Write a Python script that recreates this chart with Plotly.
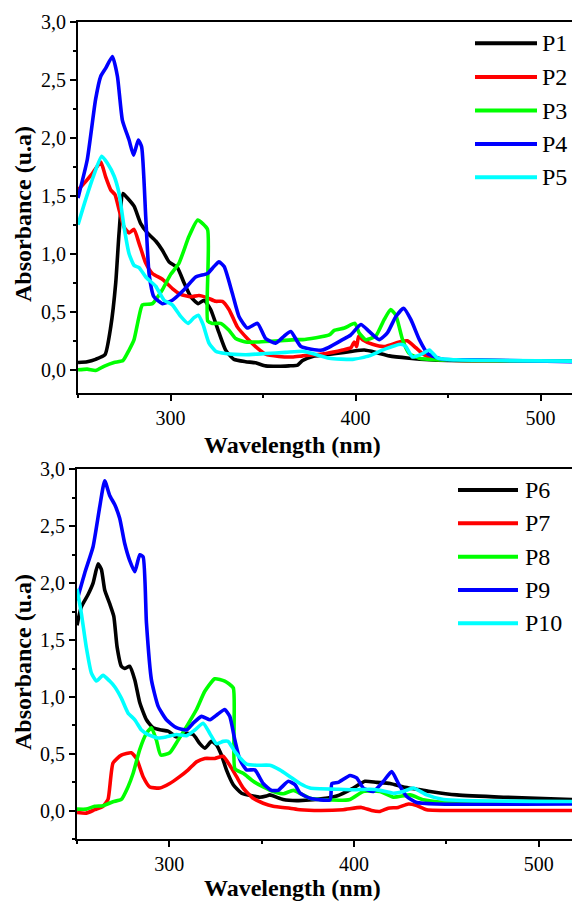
import plotly.graph_objects as go

# ---------------- data ----------------
names_top = ["P1", "P2", "P3", "P4", "P5"]
names_bot = ["P6", "P7", "P8", "P9", "P10"]

wl_p1 = [250, 255, 259.5, 264.6, 267.7, 270.4, 272.2, 274.3, 276.7, 280.3, 283.9, 287.5, 292, 295.6, 299.2, 303.7,
         307.3, 310.9, 315, 318.1, 321.7, 326.2, 329.8, 334.3, 340.6, 346, 351.4, 358.6, 364, 368.7, 371.4, 376.8,
         389.4, 398.4, 404.7, 411, 418.2, 429, 439.9, 450, 470, 517]
ab_p1 = [0.063, 0.07, 0.09, 0.13, 0.37, 0.75, 1.18, 1.52, 1.48, 1.41, 1.26, 1.18, 1.11, 1.03, 0.93, 0.88,
         0.75, 0.63, 0.57, 0.60, 0.52, 0.32, 0.17, 0.09, 0.07, 0.06, 0.034, 0.03, 0.034, 0.04, 0.08, 0.115,
         0.14, 0.16, 0.17, 0.15, 0.12, 0.10, 0.086, 0.08, 0.078, 0.075]

wl_p2 = [250, 254, 257.7, 262.3, 265, 267.7, 270, 272.2, 274.9, 277.6, 280.3, 283, 286.6, 290.2, 295.6, 301,
         305.5, 310.9, 315.4, 320, 324.4, 328, 331.6, 336.1, 341.5, 346, 351.4, 358.6, 365.8, 371.4, 384, 393,
         397.5, 399.3, 400.6, 401.7, 403.8, 409.2, 415.5, 423.6, 428, 432.6, 437, 443.4, 460, 517]
ab_p2 = [1.55, 1.62, 1.69, 1.79, 1.66, 1.55, 1.51, 1.38, 1.23, 1.18, 1.21, 1.09, 0.92, 0.83, 0.78, 0.70,
         0.65, 0.63, 0.64, 0.62, 0.59, 0.59, 0.52, 0.37, 0.27, 0.20, 0.135, 0.115, 0.11, 0.12, 0.14, 0.17,
         0.19, 0.24, 0.20, 0.29, 0.26, 0.22, 0.20, 0.24, 0.25, 0.19, 0.13, 0.09, 0.08, 0.075]

wl_p3 = [250, 255, 259.5, 264, 269.5, 274.3, 277.6, 280.3, 282.6, 284.8, 290.2, 295.6, 300, 304.6, 310, 314.7,
         320, 320.1, 322.6, 327.1, 331.6, 335.2, 340.6, 347.8, 358.6, 367.6, 371.4, 385.8, 388.5, 394, 399.7,
         401.9, 405.5, 410.9, 415.4, 419, 421.8, 425.4, 429, 434.5, 443.4, 460, 517]
ab_p3 = [0.0, 0.006, -0.006, 0.03, 0.063, 0.08, 0.17, 0.26, 0.43, 0.56, 0.57, 0.69, 0.82, 0.92, 1.15, 1.29,
         1.21, 0.42, 0.40, 0.40, 0.34, 0.27, 0.24, 0.24, 0.25, 0.26, 0.26, 0.30, 0.34, 0.36, 0.40,
         0.32, 0.26, 0.29, 0.43, 0.52, 0.47, 0.26, 0.14, 0.10, 0.086, 0.08, 0.075]

wl_p4 = [250, 255, 259.5, 262.3, 265, 268.6, 271.3, 274, 277.6, 280, 282.6, 284.4, 286.6, 288.4, 291, 295.6,
         301, 307.3, 313.6, 320, 323.5, 326.2, 329, 333.4, 337, 341.5, 347, 351.4, 356.8, 361.4, 365, 370.5,
         382, 393, 397.4, 402.9, 407.4, 412.8, 417.3, 421.8, 426, 430, 434.5, 439, 447.1, 461.5, 517]
ab_p4 = [1.48, 1.81, 2.33, 2.53, 2.60, 2.70, 2.53, 2.15, 1.98, 1.85, 1.98, 1.92, 1.32, 0.83, 0.63, 0.57,
         0.60, 0.69, 0.80, 0.83, 0.89, 0.93, 0.89, 0.66, 0.46, 0.36, 0.40, 0.27, 0.23, 0.29, 0.33, 0.20,
         0.17, 0.26, 0.30, 0.39, 0.33, 0.26, 0.32, 0.46, 0.53, 0.43, 0.26, 0.14, 0.09, 0.086, 0.07]

wl_p5 = [250, 254, 258.6, 262.8, 265.9, 269.5, 272.2, 274.9, 277.6, 280.3, 283, 286.6, 292, 296.5, 301, 305.5,
         309.5, 312.7, 315, 317.6, 320.8, 324.4, 329.8, 340.6, 351.4, 362.2, 371.4, 376.8, 385.8, 398.4, 407.4,
         414.6, 424.5, 427.2, 430.8, 436.3, 439.9, 444.4, 454.3, 517]
ab_p5 = [1.25, 1.46, 1.68, 1.84, 1.78, 1.67, 1.52, 1.23, 1.00, 0.90, 0.88, 0.80, 0.72, 0.60, 0.56, 0.46,
         0.40, 0.45, 0.47, 0.39, 0.23, 0.16, 0.14, 0.13, 0.14, 0.15, 0.16, 0.14, 0.10, 0.09, 0.12,
         0.17, 0.22, 0.20, 0.11, 0.14, 0.17, 0.10, 0.086, 0.075]

wl_p6 = [250, 252.3, 256, 258.7, 261.4, 263.2, 265, 267.7, 269.9, 271.7, 274, 275.8, 278.5, 281.3, 284, 287.6,
         291.2, 295.7, 299.3, 303.8, 309.3, 312.9, 316.5, 319.2, 322.8, 325.5, 328.2, 330.9, 334.6, 339.1, 345.4,
         349, 352.6, 354.4, 361.6, 368.9, 377.9, 390.6, 399.6, 405.9, 412.3, 419.5, 426.7, 433.9, 441.2, 455.6,
         480.9, 518]
ab_p6 = [1.63, 1.79, 1.90, 2.00, 2.17, 2.12, 1.94, 1.82, 1.71, 1.44, 1.27, 1.25, 1.27, 1.15, 0.95, 0.80,
         0.73, 0.71, 0.70, 0.65, 0.68, 0.67, 0.59, 0.55, 0.61, 0.58, 0.49, 0.36, 0.23, 0.155, 0.13,
         0.12, 0.13, 0.14, 0.10, 0.09, 0.097, 0.13, 0.20, 0.26, 0.25, 0.24, 0.21, 0.19, 0.17, 0.14,
         0.12, 0.10]

wl_p7 = [250, 255, 259.6, 264.1, 266.8, 269.5, 274, 279.4, 282.2, 285.8, 289.4, 294.8, 300.2, 305.6, 310.2,
         314.7, 319.2, 324.6, 329.1, 332.7, 336.4, 340, 345.4, 350.8, 356.2, 365.3, 370.7, 381.5, 394.1, 404,
         409.5, 414, 418.5, 423.9, 429.4, 433.9, 439.3, 460, 518]
ab_p7 = [-0.015, -0.02, 0.01, 0.04, 0.10, 0.42, 0.49, 0.51, 0.46, 0.30, 0.21, 0.20, 0.24, 0.30, 0.36,
         0.43, 0.46, 0.46, 0.48, 0.40, 0.30, 0.20, 0.11, 0.067, 0.04, 0.023, 0.01, 0.003, 0.01, 0.03,
         0.003, -0.005, 0.023, 0.03, 0.06, 0.047, 0.01, 0.003, 0.003]

wl_p8 = [250, 255, 259.6, 264.1, 269.5, 274, 277.6, 280.4, 284, 287.6, 290.3, 293, 295.3, 300.2, 304.7, 309.3,
         314.7, 319.2, 324.6, 330, 334.6, 335.5, 340, 345.4, 350.8, 356.2, 361.7, 367.1, 376.2, 383.4, 397.8,
         405, 414, 421.3, 430.3, 437.5, 444.7, 518]
ab_p8 = [0.015, 0.015, 0.04, 0.045, 0.08, 0.10, 0.21, 0.33, 0.54, 0.68, 0.73, 0.62, 0.49, 0.51, 0.62, 0.74,
         0.89, 1.05, 1.16, 1.14, 1.08, 0.37, 0.33, 0.26, 0.21, 0.17, 0.15, 0.18, 0.11, 0.097, 0.10,
         0.17, 0.17, 0.12, 0.14, 0.097, 0.08, 0.067]

wl_p9 = [250, 254.2, 258.7, 262.3, 265, 267.7, 270.4, 273.1, 275.8, 278.5, 281.3, 284, 285.8, 287.6, 290.3,
         293.9, 298.4, 303.8, 309.3, 312.9, 317.4, 322, 325.5, 330, 332.7, 335.5, 338.2, 341.8, 346.3, 350.8,
         355.3, 358.9, 364.4, 368, 370.8, 376.2, 387, 388, 391.5, 397.8, 401.4, 405, 410.4, 415.9, 420.4, 424,
         428.5, 433.9, 444.8, 518]
ab_p9 = [1.85, 2.09, 2.32, 2.67, 2.90, 2.77, 2.69, 2.57, 2.35, 2.20, 2.10, 2.25, 2.23, 1.65, 1.15,
         0.92, 0.80, 0.73, 0.71, 0.77, 0.83, 0.80, 0.84, 0.89, 0.83, 0.62, 0.45, 0.36, 0.36, 0.24,
         0.18, 0.18, 0.26, 0.23, 0.155, 0.11, 0.097, 0.24, 0.25, 0.31, 0.29, 0.20, 0.17, 0.26, 0.345, 0.24,
         0.126, 0.073, 0.06, 0.06]

wl_p10 = [250, 252.3, 255, 257.8, 260.5, 264.1, 267.7, 270.4, 274, 277.6, 281.3, 284.9, 288.5, 293.9, 298.4,
          303.8, 309.3, 313.8, 318.3, 321.9, 325.5, 329.1, 331.8, 335.5, 339.1, 341.8, 347.2, 354.4, 359.8,
          365.3, 370.7, 376.2, 390.6, 399.6, 408.6, 414, 421.3, 426.7, 432.1, 439.3, 448.4, 518]
ab_p10 = [1.95, 1.74, 1.44, 1.21, 1.14, 1.19, 1.14, 1.09, 0.99, 0.86, 0.80, 0.71, 0.67, 0.64, 0.65,
          0.67, 0.66, 0.71, 0.77, 0.68, 0.59, 0.61, 0.61, 0.52, 0.45, 0.41, 0.40, 0.40, 0.36,
          0.30, 0.24, 0.20, 0.19, 0.185, 0.19, 0.18, 0.155, 0.17, 0.20, 0.14, 0.10, 0.082]

x_tick_vals = [300, 400, 500]
y_tick_vals = [0.0, 0.5, 1.0, 1.5, 2.0, 2.5, 3.0]
x_title = "Wavelength (nm)"
y_title = "Absorbance (u.a)"

colors = ["#000000", "#FF0000", "#00FF00", "#0000FF", "#00FFFF"]

# ---------------- figure ----------------
W, H = 572, 902
FONT = "Liberation Serif"

fig = go.Figure()

top_series = [(wl_p1, ab_p1), (wl_p2, ab_p2), (wl_p3, ab_p3), (wl_p4, ab_p4), (wl_p5, ab_p5)]
bot_series = [(wl_p6, ab_p6), (wl_p7, ab_p7), (wl_p8, ab_p8), (wl_p9, ab_p9), (wl_p10, ab_p10)]

line_style = dict(width=3.6, shape="spline", smoothing=0.5)
for (xs, ys), nm, c in zip(top_series, names_top, colors):
    fig.add_trace(go.Scatter(x=xs, y=ys, mode="lines", name=nm, showlegend=False,
                             line=dict(color=c, **line_style), xaxis="x", yaxis="y"))
for (xs, ys), nm, c in zip(bot_series, names_bot, colors):
    fig.add_trace(go.Scatter(x=xs, y=ys, mode="lines", name=nm, showlegend=False,
                             line=dict(color=c, **line_style), xaxis="x2", yaxis="y2"))


def xaxis_cfg(domain, anchor, rng):
    return dict(domain=domain, anchor=anchor, range=rng, tickvals=x_tick_vals, automargin=False,
                ticks="outside", ticklen=6, tickwidth=2, tickcolor="black",
                minor=dict(dtick=50, tick0=0, ticks="outside", ticklen=3, tickwidth=2, tickcolor="black"),
                showline=True, linewidth=2, linecolor="black", mirror=True,
                showgrid=False, zeroline=False,
                tickfont=dict(family=FONT, size=20, color="black"))


def yaxis_cfg(domain, anchor, rng):
    return dict(domain=domain, anchor=anchor, range=rng, tickvals=y_tick_vals, tickformat=".1f",
                automargin=False,
                ticks="outside", ticklen=6, tickwidth=2, tickcolor="black",
                minor=dict(dtick=0.25, tick0=0, ticks="outside", ticklen=3, tickwidth=2, tickcolor="black"),
                showline=True, linewidth=2, linecolor="black", mirror=False,
                showgrid=False, zeroline=False,
                tickfont=dict(family=FONT, size=20, color="black"))


top_dom_y = [1 - 393 / H, 1 - 21.7 / H]
bot_dom_y = [1 - 839.3 / H, 1 - 469.3 / H]

fig.update_layout(
    width=W, height=H,
    margin=dict(l=0, r=0, t=0, b=0, autoexpand=False),
    paper_bgcolor="white", plot_bgcolor="white",
    separators=", ",
    showlegend=False,
    font=dict(family=FONT, color="black"),
    xaxis=xaxis_cfg([78 / W, 1], "y", [250, 517]),
    yaxis=yaxis_cfg(top_dom_y, "x", [-0.2, 3.0]),
    xaxis2=xaxis_cfg([77 / W, 1], "y2", [250, 518]),
    yaxis2=yaxis_cfg(bot_dom_y, "x2", [-0.25, 3.0]),
)

shapes = []
annotations = []

# axis titles
for py in [445, 888]:
    annotations.append(dict(xref="paper", yref="paper", x=292 / W, y=1 - py / H, text="<b>" + x_title + "</b>",
                            showarrow=False, xanchor="center", yanchor="middle",
                            font=dict(family=FONT, size=24, color="black")))
for py in [214, 662]:
    annotations.append(dict(xref="paper", yref="paper", x=23 / W, y=1 - py / H, text="<b>" + y_title + "</b>",
                            textangle=-90, showarrow=False, xanchor="center", yanchor="middle",
                            font=dict(family=FONT, size=24, color="black")))

# legends (line samples + text)
leg_top_rows = [43.3, 77, 110.5, 144, 177.3]
leg_bot_rows = [490, 523.3, 556.7, 590, 623.3]
for names, rows, x0, x1, xt in [(names_top, leg_top_rows, 475, 537, 540),
                                (names_bot, leg_bot_rows, 458, 518, 523)]:
    for nm, c, py in zip(names, colors, rows):
        yp = 1 - py / H
        shapes.append(dict(type="line", xref="paper", yref="paper", x0=x0 / W, x1=x1 / W,
                           y0=yp, y1=yp, line=dict(color=c, width=4)))
        annotations.append(dict(xref="paper", yref="paper", x=xt / W, y=yp, text=nm, showarrow=False,
                                xanchor="left", yanchor="middle",
                                font=dict(family=FONT, size=24, color="black")))
fig.update_layout(shapes=shapes, annotations=annotations)

fig.write_html("out.html", config={"displayModeBar": False},
               post_script="document.body.style.margin='0';document.body.style.overflow='hidden';")
